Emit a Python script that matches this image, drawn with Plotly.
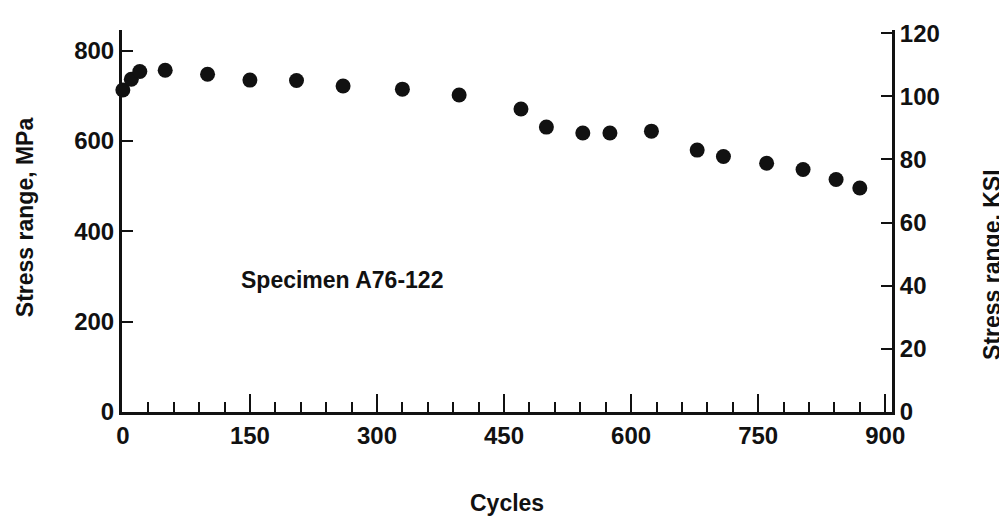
import plotly.graph_objects as go

# Data
cycles = [0, 10, 20, 50, 100, 150, 205, 260, 330, 397, 470, 500, 543, 575, 624, 678, 709, 760, 803, 842, 870]
stress_mpa = [713, 737, 754, 757, 748, 735, 734, 722, 715, 702, 671, 631, 618, 618, 622, 580, 566, 551, 537, 515, 496]

x_ticks = [0, 150, 300, 450, 600, 750, 900]
y_left_ticks = [0, 200, 400, 600, 800]
y_right_ticks = [0, 20, 40, 60, 80, 100, 120]

specimen_label = "Specimen A76-122"

FONT = "Liberation Sans, Arial, sans-serif"
INK = "#111111"
TICK_SIZE = 24
TITLE_SIZE = 23

fig = go.Figure()
fig.add_trace(go.Scatter(
    x=cycles, y=stress_mpa, mode="markers",
    marker=dict(size=15, color=INK, line=dict(width=0)),
    cliponaxis=False, showlegend=False,
))
# invisible trace to activate the right axis
fig.add_trace(go.Scatter(x=[None], y=[None], yaxis="y2", showlegend=False))

tickfont = dict(family=FONT, size=TICK_SIZE, color=INK, weight="bold")
titlefont = dict(family=FONT, size=TITLE_SIZE, color=INK, weight="bold")

fig.update_layout(
    width=1007, height=518,
    margin=dict(l=114, r=123, t=17, b=114),
    paper_bgcolor="white", plot_bgcolor="white",
    font=dict(family=FONT, size=TICK_SIZE, color=INK, weight="bold"),
    xaxis=dict(
        range=[-1, 908], tickvals=x_ticks, ticktext=[str(v) for v in x_ticks],
        showgrid=False, zeroline=False, showline=True, linecolor=INK, linewidth=3,
        ticks="inside", ticklen=18, tickwidth=2, tickcolor=INK,
        minor=dict(dtick=30, tick0=0, ticks="inside", ticklen=10, tickwidth=2, tickcolor=INK, showgrid=False),
        tickfont=tickfont,
    ),
    yaxis=dict(
        range=[0, 846], tickvals=y_left_ticks,
        showgrid=False, zeroline=False, showline=True, linecolor=INK, linewidth=3,
        ticks="inside", ticklen=11, tickwidth=2, tickcolor=INK,
        tickfont=tickfont,
    ),
    yaxis2=dict(
        range=[0, 121], tickvals=y_right_ticks, overlaying="y", side="right", anchor="x",
        showgrid=False, zeroline=False, showline=True, linecolor=INK, linewidth=3,
        ticks="inside", ticklen=11, tickwidth=2, tickcolor=INK,
        tickfont=tickfont,
    ),
    annotations=[
        dict(text=specimen_label, x=259, y=293, xref="x", yref="y", showarrow=False,
             xanchor="center", yanchor="middle", font=titlefont),
        dict(text="Stress range, MPa", x=0, y=0.51, xref="paper", yref="paper", showarrow=False,
             xanchor="center", yanchor="middle", xshift=-97, textangle=-90, font=titlefont),
        dict(text="Stress range, KSI", x=1, y=0.385, xref="paper", yref="paper", showarrow=False,
             xanchor="center", yanchor="middle", xshift=100, textangle=-90, font=titlefont),
        dict(text="Cycles", x=0.5, y=0, xref="paper", yref="paper", showarrow=False,
             xanchor="center", yanchor="middle", yshift=-91, font=titlefont),
    ],
)

fig.write_html("out.html")
